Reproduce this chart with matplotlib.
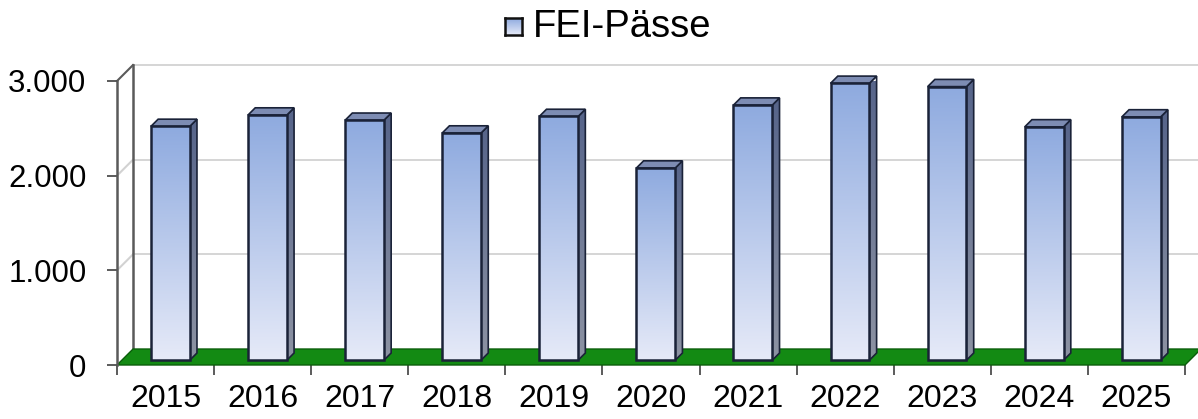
import numpy as np
import matplotlib
matplotlib.use("Agg")
import matplotlib.pyplot as plt
from matplotlib.patches import Polygon
from matplotlib.ticker import FuncFormatter
from matplotlib.colors import LinearSegmentedColormap

plt.rcParams["font.family"] = ["Liberation Sans", "DejaVu Sans"]

# ============ 数据 ============
years = ["2015", "2016", "2017", "2018", "2019", "2020",
         "2021", "2022", "2023", "2024", "2025"]
passes = [2470, 2590, 2535, 2400, 2575, 2030,
          2695, 2925, 2890, 2465, 2570]
y_ticks = [0, 1000, 2000, 3000]
series_name = "FEI-Pässe"

# ============ 3D 外观参数 ============
DX = 0.165     # 深度方向 x 偏移（类别单位）
DY = 169.0     # 深度方向 y 偏移（数值单位）
BAR_X0, BAR_X1 = 0.30, 0.70
BAR_D0, BAR_D1 = 0.30, 0.75

front_cmap = LinearSegmentedColormap.from_list("front", ["#e6eaf8", "#8eaadf"])
side_cmap = LinearSegmentedColormap.from_list("side", ["#8d93a3", "#56648a"])
EDGE = "#1a2238"
FLOOR = "#138a13"
GRID = "#d2d2d2"
WALL = "#5a5a5a"


def proj(x, y, d):
    """斜投影：深度 d 在 [0,1]"""
    return (x + d * DX, y + d * DY)


def face(ax, pts, **kw):
    poly = Polygon([proj(*p) for p in pts], closed=True, clip_on=False, **kw)
    ax.add_patch(poly)
    return poly


def gradient_face(ax, pts, cmap, zorder):
    poly = face(ax, pts, facecolor="none", edgecolor="none", zorder=zorder)
    xy = np.array([proj(*p) for p in pts])
    grad = np.linspace(0, 1, 256).reshape(-1, 1)
    im = ax.imshow(grad, cmap=cmap, origin="lower", aspect="auto",
                   extent=[xy[:, 0].min(), xy[:, 0].max(),
                           xy[:, 1].min(), xy[:, 1].max()],
                   zorder=zorder, clip_on=True)
    im.set_clip_path(poly)
    return poly


fig = plt.figure(figsize=(11.98, 4.19), dpi=100)
ax = fig.add_axes([117 / 1198, 54 / 419, 1068 / 1198, 284 / 419])
n = len(years)

# 后墙网格线和侧墙
for v in y_ticks[1:]:
    ax.plot(*zip(proj(0, v, 1), proj(n, v, 1)), color=GRID, lw=1.3,
            clip_on=False, zorder=1)
    c = WALL if v == y_ticks[-1] else GRID
    ax.plot(*zip(proj(0, v, 0), proj(0, v, 1)), color=c, lw=1.5,
            clip_on=False, zorder=1)
ax.plot(*zip(proj(0, 0, 1), proj(0, y_ticks[-1], 1)), color=WALL, lw=1.8,
        clip_on=False, zorder=1)

# 地板
face(ax, [(0, 0, 0), (n, 0, 0), (n, 0, 1), (0, 0, 1)],
     facecolor=FLOOR, edgecolor="#0b5e0b", lw=1.0, zorder=2)

# 柱子
for i, v in enumerate(passes):
    x0, x1 = i + BAR_X0, i + BAR_X1
    side = [(x1, 0, BAR_D0), (x1, 0, BAR_D1), (x1, v, BAR_D1), (x1, v, BAR_D0)]
    gradient_face(ax, side, side_cmap, 3)
    face(ax, side, facecolor="none", edgecolor=EDGE, lw=1.2, zorder=4)
    top = [(x0, v, BAR_D0), (x1, v, BAR_D0), (x1, v, BAR_D1), (x0, v, BAR_D1)]
    face(ax, top, facecolor="#7d8cb3", edgecolor=EDGE, lw=1.2, zorder=4)
    front = [(x0, 0, BAR_D0), (x1, 0, BAR_D0), (x1, v, BAR_D0), (x0, v, BAR_D0)]
    gradient_face(ax, front, front_cmap, 5)
    face(ax, front, facecolor="none", edgecolor=EDGE, lw=1.8, zorder=6)

ax.set_xlim(0, n)
ax.set_ylim(0, y_ticks[-1])

# 坐标轴
for s in ["top", "right", "bottom"]:
    ax.spines[s].set_visible(False)
ax.spines["left"].set_color(WALL)
ax.spines["left"].set_linewidth(1.8)
ax.spines["left"].set_zorder(7)

ax.set_yticks(y_ticks)
ax.yaxis.set_major_formatter(FuncFormatter(lambda v, p: f"{v:,.0f}".replace(",", ".")))
ax.tick_params(axis="y", length=7, width=1.2, color="#404040", pad=15,
               labelsize=22.5)
ax.set_xticks(np.arange(n + 1))
ax.set_xticklabels([])
ax.set_xticks(np.arange(n) + 0.5, minor=True)
ax.set_xticklabels(years, minor=True)
ax.tick_params(axis="x", which="major", length=7, width=1.2, color="#404040")
ax.tick_params(axis="x", which="minor", length=0, pad=14, labelsize=23)

# 图例
lax = fig.add_axes([505 / 1198, (419 - 35) / 419, 17 / 1198, 17 / 419])
lax.imshow(np.linspace(0, 1, 64).reshape(-1, 1), cmap=front_cmap,
           origin="lower", aspect="auto")
lax.set_xticks([])
lax.set_yticks([])
for s in lax.spines.values():
    s.set_linewidth(1.8)
    s.set_color("#111111")
fig.text(533 / 1198, 1 - 27 / 419, series_name, fontsize=27.5, va="center",
         ha="left")

fig.savefig("out.png", dpi=100, facecolor="white")
